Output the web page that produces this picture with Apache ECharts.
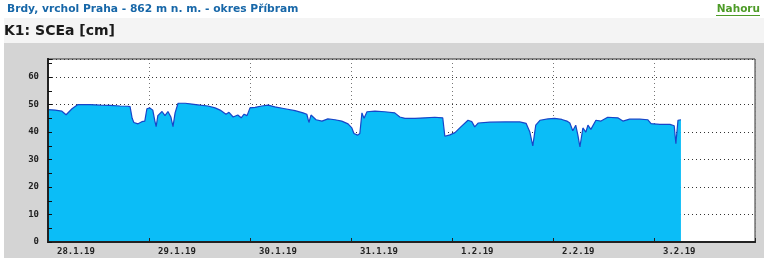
<!DOCTYPE html>
<html>
<head>
<meta charset="utf-8">
<script src="https://cdn.jsdelivr.net/npm/echarts@6/dist/echarts.min.js"></script>
<style>
html,body{margin:0;padding:0;background:#fff;}
#c{width:772px;height:264px;}
</style>
</head>
<body>
<div id="c"></div>
<script>
// Data: hours since 28.1.2019 00:00 and snow depth SCEa [cm]
const hoursFromStart = [0,1.7,3.3,4.3,4.75,5.7,7.1,10,12.4,14.7,
17.1,19,19.5,20,20.4,21.4,22.3,23,23.5,24.2,
24.9,25.4,25.7,26.1,27.1,27.8,28.5,29.2,29.7,30.2,
30.9,32.6,34.2,36.1,38,39.7,40.9,42.3,43,44,
45.1,45.9,46.6,47.3,48,49.2,50.8,52.3,53.9,56.3,
58.7,60.6,61.5,62,62.5,63.7,65.1,66.5,68.2,69.8,
71.3,72.2,72.7,73.6,74.1,74.6,75.1,75.8,77.7,80,
82.4,83.6,84.8,87.2,89.6,91.9,93.8,94.3,95.5,96.7,
98.1,99.8,100.7,101.4,102.2,105,108.6,112.1,113.6,114.5,
115.2,115.9,116.9,118.8,120.4,122.1,123.3,124,124.7,125.4,
125.9,126.4,127.1,127.8,128.3,129,130.2,131.4,133,135.4,
136.6,138.2,140.6,142.5,143.3,145.4,147.8,148.8,149.2,149.7,
150.4];
const sceValues = [48.2,48.0,47.6,46.3,47.0,48.5,50.0,50.0,49.8,49.7,
49.5,49.4,49.3,45.0,43.5,43.0,43.8,44.0,48.5,48.8,
48.0,44.0,42.0,46.0,47.5,46.0,47.5,45.5,42.0,47.0,
50.5,50.5,50.2,49.8,49.5,48.8,48.0,46.5,47.2,45.5,
46.2,45.2,46.5,46.0,48.8,49.0,49.5,49.8,49.2,48.5,
47.8,47.0,46.5,43.5,46.2,44.5,44.0,44.8,44.5,44.0,
43.0,41.5,39.5,38.9,39.5,47.0,45.0,47.4,47.6,47.4,
47.0,45.5,45.0,45.0,45.2,45.4,45.2,38.5,39.0,39.8,
41.9,44.3,43.8,41.9,43.3,43.6,43.7,43.7,43.2,40.0,
35.0,42.5,44.3,44.8,45.0,44.6,44.0,43.3,40.5,42.5,
39.0,34.6,41.5,40.0,42.5,41.0,44.3,44.0,45.4,45.2,
44.0,44.7,44.7,44.5,43.1,42.8,42.8,42.3,35.8,44.3,
44.5];
const yTicks = [0,10,20,30,40,50,60];
const titleText = 'Brdy, vrchol Praha - 862 m n. m. - okres Příbram';
const panelTitle = 'K1: SCEa [cm]';
const linkText = 'Nahoru';

const HOUR = 3600000, DAY = 24*HOUR;
const start = new Date(2019,0,28,0,0,0).getTime();
const end = start + 7*DAY;
const seriesData = hoursFromStart.map((h,i)=>[start + h*HOUR, sceValues[i]]);

const chart = echarts.init(document.getElementById('c'), null, {renderer:'canvas'});
const monoFont = 'DejaVu Sans Mono';
const dayFmt = function(v){ if (v >= end) return ''; const d=new Date(v);return d.getDate()+'.'+(d.getMonth()+1)+'.'+String(d.getFullYear()).slice(2);};
chart.setOption({
  animation:false,
  backgroundColor:'#fff',
  graphic:[
    {type:'rect', shape:{x:4,y:18,width:760,height:25}, style:{fill:'#f4f4f4'}, z:-10},
    {type:'rect', shape:{x:4,y:43,width:760,height:215}, style:{fill:'#d4d4d4'}, z:-10},
    {type:'text', x:7, y:9, style:{text:titleText, fill:'#1767a8', font:'bold 10.7px "DejaVu Sans"', verticalAlign:'middle'}},
    {type:'text', x:760, y:9, style:{text:linkText, fill:'#4d9b27', font:'bold 10.5px "DejaVu Sans"', align:'right', verticalAlign:'middle'}},
    {type:'line', shape:{x1:716,y1:15.5,x2:760,y2:15.5}, style:{stroke:'#4d9b27', lineWidth:1}},
    {type:'text', x:4, y:31, style:{text:panelTitle, fill:'#1a1a1a', font:'bold 14px "DejaVu Sans"', verticalAlign:'middle'}}
  ],
  grid:{left:48, top:59, right:17, bottom:22, show:true, backgroundColor:'#fff', borderColor:'#333', borderWidth:1, outerBoundsMode:'none', containLabel:false},
  xAxis:[{
    type:'time', min:start, max:end,
    minInterval:DAY, maxInterval:DAY, splitNumber:7,
    axisLine:{lineStyle:{color:'#222', width:2}},
    axisTick:{show:false},
    splitLine:{show:true, lineStyle:{color:'#777', type:[1,3], width:1}},
    axisLabel:{
      align:'left', padding:[0,0,0,9], margin:5, color:'#222',
      fontFamily:monoFont, fontSize:9, fontWeight:'bold',
      showMinLabel:true, showMaxLabel:false, hideOverlap:false,
      formatter:dayFmt
    }
  },{
    type:'time', min:start, max:end, position:'bottom', z:5,
    minInterval:DAY, maxInterval:DAY, splitNumber:7,
    axisLine:{show:true, lineStyle:{color:'#222', width:2}},
    axisTick:{show:true, inside:true, length:4, lineStyle:{color:'#222', width:1}},
    splitLine:{show:false}, axisLabel:{show:false}
  }],
  yAxis:[{
    type:'value', min:0, max:66.6, interval:10,
    axisLine:{show:true, lineStyle:{color:'#222', width:2}},
    axisTick:{show:false},
    splitLine:{show:true, lineStyle:{color:'#333', type:[1,3], width:1}},
    axisLabel:{color:'#222', fontFamily:monoFont, fontSize:9, fontWeight:'bold', margin:9, showMaxLabel:false,
      formatter:function(v){return yTicks.indexOf(v)>=0 ? String(v) : '';}}
  },{
    type:'value', min:0, max:66.6, interval:5, position:'left', alignTicks:false, z:5,
    axisLine:{show:true, lineStyle:{color:'#222', width:2}}, axisLabel:{show:false}, splitLine:{show:false},
    axisTick:{show:true, inside:true, length:4, lineStyle:{color:'#111', width:1}}
  }],
  series:[{
    type:'line', data:seriesData, symbol:'none', smooth:false,
    lineStyle:{color:'#1746c8', width:1.2},
    areaStyle:{color:'#0bbdf7', opacity:1},
    z:2
  }]
});
</script>
</body>
</html>
